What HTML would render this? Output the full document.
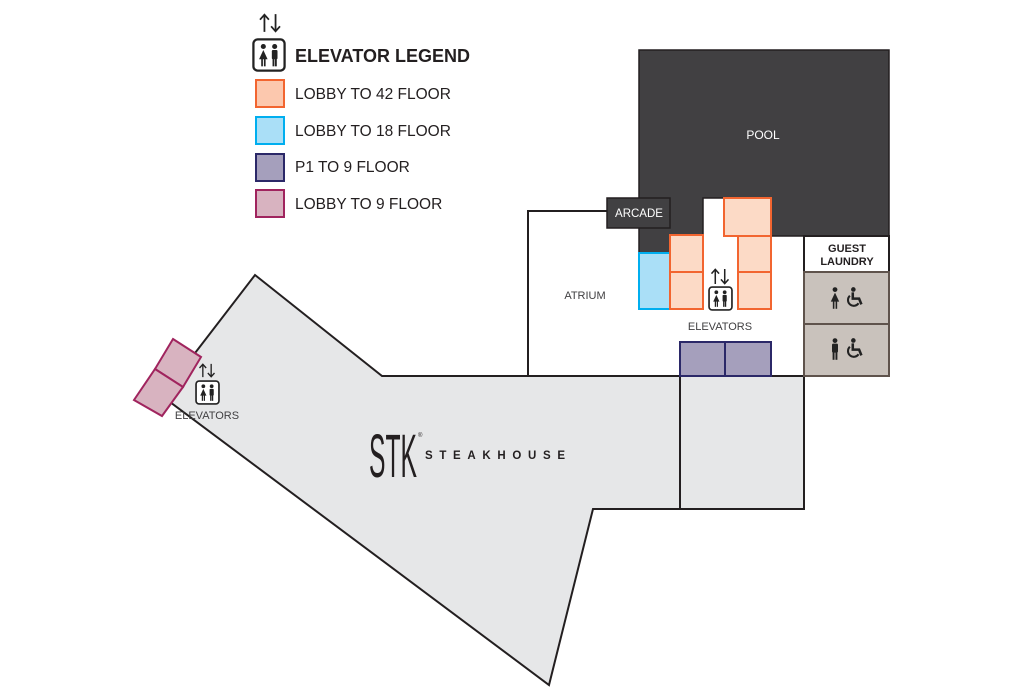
<!DOCTYPE html>
<html><head><meta charset="utf-8"><style>
html,body{margin:0;padding:0;background:#fff;}
svg{display:block;font-family:"Liberation Sans","DejaVu Sans",sans-serif;}
</style></head><body>
<svg width="1024" height="700" viewBox="0 0 1024 700" xmlns="http://www.w3.org/2000/svg">
<defs>
<symbol id="ppl" viewBox="0 0 24 24">
  <rect x="1" y="1" width="22" height="22" rx="3" fill="#fff" stroke="#222" stroke-width="1.6"/>
  <circle cx="8" cy="6" r="1.8" fill="#222"/>
  <path d="M8 8.5 L5 15 L11 15 Z" fill="#222"/>
  <rect x="6.5" y="14" width="1.2" height="6" fill="#222"/><rect x="8.4" y="14" width="1.2" height="6" fill="#222"/>
  <circle cx="16" cy="6" r="1.8" fill="#222"/>
  <rect x="14" y="8.5" width="4" height="6.5" rx="0.8" fill="#222"/>
  <rect x="14.5" y="14" width="1.3" height="6" fill="#222"/><rect x="16.2" y="14" width="1.3" height="6" fill="#222"/>
</symbol>
<symbol id="arr" viewBox="0 0 24 18">
  <path d="M7 17 V2 M3 6 L7 1.5 L11 6 M17 1 V16 M13 12 L17 16.5 L21 12" fill="none" stroke="#222" stroke-width="1.6"/>
</symbol>
<symbol id="wc" viewBox="0 0 20 20">
  <circle cx="9" cy="3" r="2" fill="#222"/>
  <path d="M8.5 5.5 V11 H14 L16 16" fill="none" stroke="#222" stroke-width="2.2"/>
  <path d="M6 8.5 A5 5 0 1 0 13.5 15" fill="none" stroke="#222" stroke-width="1.8"/>
</symbol>
<symbol id="wom" viewBox="0 0 10 20">
  <circle cx="5" cy="3" r="2" fill="#222"/><path d="M5 5.5 L1.5 13 L8.5 13 Z" fill="#222"/>
  <rect x="3.2" y="12" width="1.3" height="7" fill="#222"/><rect x="5.5" y="12" width="1.3" height="7" fill="#222"/>
</symbol>
<symbol id="man" viewBox="0 0 10 20">
  <circle cx="5" cy="3" r="2" fill="#222"/><rect x="2.5" y="5.5" width="5" height="7.5" rx="1" fill="#222"/>
  <rect x="3" y="12" width="1.6" height="7" fill="#222"/><rect x="5.4" y="12" width="1.6" height="7" fill="#222"/>
</symbol>
</defs>

<polygon points="255,275 382,376 804,376 804,509 593,509 549,685 162,396" fill="#e6e7e8" stroke="#231f20" stroke-width="2"/>
<line x1="680" y1="376" x2="680" y2="509" stroke="#231f20" stroke-width="2"/>
<polygon points="173,339 201,357 183,387 155,369" fill="#d8b3c0" stroke="#a0245e" stroke-width="2"/>
<polygon points="155,369 183,387 162,416 134,400" fill="#d8b3c0" stroke="#a0245e" stroke-width="2"/>

<polyline points="528,376 528,211 607,211" fill="none" stroke="#231f20" stroke-width="2"/>

<polygon points="639,50 889,50 889,236 724,236 724,198 703,198 703,235 670,235 670,253 639,253" fill="#414042" stroke="#231f20" stroke-width="1.5"/>
<rect x="607" y="198" width="63" height="30" fill="#414042" stroke="#231f20" stroke-width="1.5"/>
<text x="639" y="217" fill="#fff" font-size="11.5" text-anchor="middle">ARCADE</text>
<text x="763" y="139" fill="#fff" font-size="12" text-anchor="middle">POOL</text>

<rect x="804" y="236" width="85" height="36" fill="#fff" stroke="#231f20" stroke-width="2"/>
<text x="847" y="252" font-size="11" font-weight="bold" text-anchor="middle" fill="#231f20">GUEST</text>
<text x="847" y="265" font-size="11" font-weight="bold" text-anchor="middle" fill="#231f20">LAUNDRY</text>
<rect x="804" y="272" width="85" height="52" fill="#c9c2bc" stroke="#5f534c" stroke-width="2"/>
<rect x="804" y="324" width="85" height="52" fill="#c9c2bc" stroke="#5f534c" stroke-width="2"/>
<use href="#wom" x="829" y="286" width="12" height="24"/>
<use href="#wc" x="843" y="286" width="23" height="23"/>
<use href="#man" x="829" y="337" width="12" height="24"/>
<use href="#wc" x="843" y="337" width="23" height="23"/>

<rect x="639" y="253" width="31" height="56" fill="#aadff7" stroke="#00aeef" stroke-width="2"/>
<g fill="#fcdac6" stroke="#f26530" stroke-width="2">
<rect x="670" y="235" width="33" height="37"/><rect x="670" y="272" width="33" height="37"/>
<rect x="724" y="198" width="47" height="38"/>
<rect x="738" y="236" width="33" height="36"/><rect x="738" y="272" width="33" height="37"/>
</g>
<g fill="#a59fbc" stroke="#2b2868" stroke-width="2">
<rect x="680" y="342" width="45" height="34"/><rect x="725" y="342" width="46" height="34"/>
</g>
<use href="#arr" x="708" y="268" width="24" height="17"/>
<use href="#ppl" x="708" y="286" width="25" height="25"/>
<text x="720" y="330" font-size="11" text-anchor="middle" fill="#414042">ELEVATORS</text>
<text x="585" y="299" font-size="11" text-anchor="middle" fill="#414042">ATRIUM</text>

<use href="#arr" x="195" y="363" width="24" height="15"/>
<use href="#ppl" x="195" y="380" width="25" height="25"/>
<text x="207" y="419" font-size="11" text-anchor="middle" fill="#414042">ELEVATORS</text>

<text transform="translate(369,477) scale(1,1.4)" font-size="44" fill="#231f20" textLength="48" lengthAdjust="spacingAndGlyphs">STK</text>
<text x="418" y="437" font-size="6" fill="#231f20">®</text>
<text x="425" y="459" font-size="11.5" font-weight="bold" fill="#231f20" textLength="140" lengthAdjust="spacing">STEAKHOUSE</text>

<use href="#arr" x="254" y="13" width="32" height="20"/>
<use href="#ppl" x="252" y="38" width="34" height="34"/>
<text x="295" y="62" font-size="18" font-weight="bold" fill="#231f20">ELEVATOR LEGEND</text>
<rect x="256" y="80" width="28" height="27" fill="#fcc8ae" stroke="#f26530" stroke-width="2"/>
<rect x="256" y="117" width="28" height="27" fill="#aadff7" stroke="#00aeef" stroke-width="2"/>
<rect x="256" y="154" width="28" height="27" fill="#a59fbc" stroke="#2b2868" stroke-width="2"/>
<rect x="256" y="190" width="28" height="27" fill="#d8b3c0" stroke="#a0245e" stroke-width="2"/>
<g font-size="15.5" fill="#231f20">
<text x="295" y="99">LOBBY TO 42 FLOOR</text>
<text x="295" y="136">LOBBY TO 18 FLOOR</text>
<text x="295" y="172">P1 TO 9 FLOOR</text>
<text x="295" y="209">LOBBY TO 9 FLOOR</text>
</g>
</svg>
</body></html>
